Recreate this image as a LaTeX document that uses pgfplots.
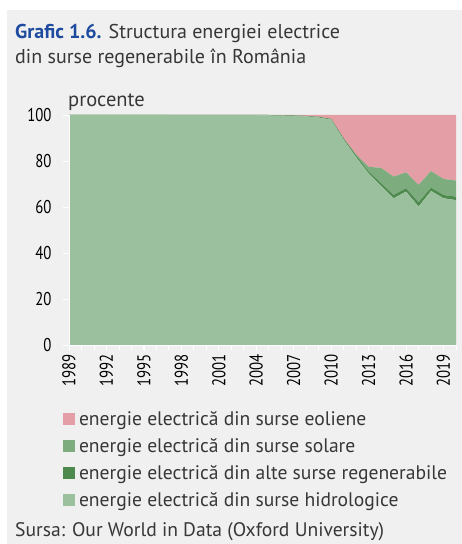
\documentclass[border=0pt]{standalone}
\usepackage{pgfplots}
\pgfplotsset{compat=1.18}
\usepackage{pgfplotstable}
\usepackage{fontspec}
\setmainfont{PT Sans}
\newfontfamily\cond[FakeStretch=0.8]{PT Sans}
\definecolor{bgpanel}{RGB}{240,240,240}
\definecolor{hydro}{RGB}{155,192,157}
\definecolor{other}{RGB}{78,138,78}
\definecolor{solar}{RGB}{125,173,127}
\definecolor{wind}{RGB}{227,159,165}
\definecolor{titleblue}{RGB}{30,75,160}
\definecolor{txt}{RGB}{55,55,55}
\pgfplotstableread{
year hydro other solar wind
1989 100 0 0 0
1990 100 0 0 0
1991 100 0 0 0
1992 100 0 0 0
1993 100 0 0 0
1994 100 0 0 0
1995 100 0 0 0
1996 100 0 0 0
1997 100 0 0 0
1998 99.9 0.1 0 0
1999 99.9 0.1 0 0
2000 99.9 0.1 0 0
2001 99.9 0.1 0 0
2002 99.9 0.1 0 0
2003 99.9 0.1 0 0
2004 99.9 0.1 0 0
2005 99.8 0.2 0 0
2006 99.7 0.2 0 0.1
2007 99.6 0.2 0 0.2
2008 99.4 0.2 0 0.4
2009 98.9 0.3 0 0.8
2010 98.0 0.3 0 1.7
2011 89.3 0.5 0 10.2
2012 81.7 0.8 0.3 17.2
2013 74.6 0.8 2.1 22.5
2014 69.1 1.2 6.7 23.0
2015 63.8 1.4 8.0 26.8
2016 66.7 1.4 7.0 24.9
2017 60.2 1.8 7.6 30.4
2018 67.0 1.4 7.2 24.4
2019 63.8 1.4 7.0 27.8
2020 63.0 1.5 7.0 28.5
}\datatable
\begin{document}
\begin{tikzpicture}[x=1pt,y=1pt]
\path[use as bounding box] (0,0) rectangle (462,544);
\fill[white] (0,0) rectangle (462,544);
\fill[bgpanel] (7,0) rectangle (462,534);
\node[anchor=base west,inner sep=0pt,font=\fontsize{20}{22}\selectfont,text=txt] at (15,505) {\textcolor{titleblue}{\bfseries Grafic 1.6.} Structura energiei electrice};
\node[anchor=base west,inner sep=0pt,font=\fontsize{20}{22}\selectfont,text=txt] at (15,480) {din surse regenerabile în România};
\node[anchor=base west,inner sep=0pt,font=\fontsize{20.5}{22}\selectfont,text=txt] at (68,437) {procente};
\node[anchor=base west,inner sep=0pt,font=\fontsize{19.6}{22}\selectfont,text=txt] at (15,8) {Sursa: Our World in Data (Oxford University)};
\begin{axis}[
  at={(69pt,199pt)}, anchor=south west,
  scale only axis, width=387pt, height=230pt,
  xmin=1989, xmax=2020, ymin=0, ymax=100,
  stack plots=y, area style,
  axis line style={white, line width=0.8pt},
  axis x line*=bottom, axis y line*=left,
  xtick={1989,1992,...,2019}, minor xtick={1989,...,2020},
  ytick={0,20,...,100},
  tick align=outside,
  major tick length=6pt, minor tick length=5pt,
  tick style={white, line width=0.8pt},
  /pgf/number format/1000 sep={},
  /pgf/number format/assume math mode=true,
  ticklabel style={font=\cond\fontsize{18.5}{18}\selectfont, text=black},
  xticklabel style={rotate=90, anchor=east, xshift=0pt},
  yticklabel style={xshift=-8pt},
  clip=false,
  reverse legend,
  legend cell align=left,
  legend style={at={(axis description cs:-0.016,-0.285)}, anchor=north west,
    draw=none, fill=none, inner sep=0pt, row sep=9.4pt,
    font=\fontsize{19.6}{21}\selectfont, text=txt,
    nodes={inner sep=1pt},
    /tikz/every odd column/.append style={column sep=3pt}},
  legend image code/.code={\fill[#1] (0pt,-5pt) rectangle (12pt,6.5pt);},
]
\addplot[fill=hydro, draw=none] table[x=year,y=hydro] {\datatable} \closedcycle;
\addlegendentry{energie electrică din surse hidrologice}
\addplot[fill=other, draw=none] table[x=year,y=other] {\datatable} \closedcycle;
\addlegendentry{energie electrică din alte surse regenerabile}
\addplot[fill=solar, draw=none] table[x=year,y=solar] {\datatable} \closedcycle;
\addlegendentry{energie electrică din surse solare}
\addplot[fill=wind, draw=none] table[x=year,y=wind] {\datatable} \closedcycle;
\addlegendentry{energie electrică din surse eoliene}
\end{axis}
\end{tikzpicture}
\end{document}
